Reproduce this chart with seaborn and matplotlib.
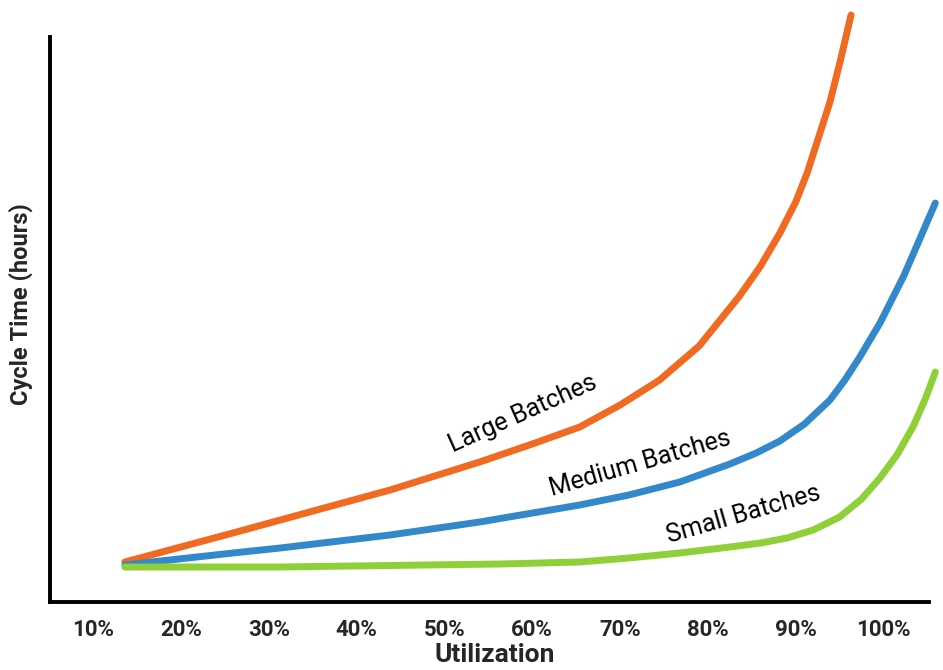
"""Cycle time vs utilization for three batch sizes."""

import matplotlib

matplotlib.use("Agg")

import matplotlib.pyplot as plt
import pandas as pd
import seaborn as sns


# values (utilization in %, cycle time in arbitrary hours)
LARGE_X = [13.6, 25.9, 31.3, 43.8, 54.0, 60.0, 65.4, 70.0, 74.5, 79.0, 83.6, 86.0,
           88.2, 90.0, 91.3, 93.9, 95.1, 96.3]
LARGE_Y = [4.0, 6.9, 8.2, 11.2, 14.0, 15.8, 17.5, 19.7, 22.2, 25.6, 30.6, 33.6,
           36.9, 40.0, 42.9, 50.0, 54.2, 58.7]

MEDIUM_X = [13.6, 25.9, 31.3, 43.8, 54.0, 65.4, 71.0, 76.8, 82.5, 85.5, 88.2, 91.0,
            93.9, 95.6, 97.3, 99.6, 102.3, 105.9]
MEDIUM_Y = [3.7, 4.9, 5.4, 6.7, 8.0, 9.7, 10.7, 12.0, 13.8, 14.9, 16.1, 17.8,
            20.2, 22.2, 24.5, 27.9, 32.6, 39.9]

SMALL_X = [13.6, 31.3, 56.3, 65.4, 71.0, 76.8, 82.5, 86.0, 89.0, 92.0, 95.0, 97.5,
           99.6, 101.6, 103.4, 104.8, 105.9]
SMALL_Y = [3.5, 3.5, 3.8, 4.0, 4.4, 4.9, 5.5, 5.9, 6.4, 7.2, 8.5, 10.3,
           12.4, 14.8, 17.6, 20.4, 23.0]

SERIES = ["Large Batches", "Medium Batches", "Small Batches"]
COLORS = ["#F06A22", "#3388CC", "#8FCF38"]

TICKS = [10, 20, 30, 40, 50, 60, 70, 80, 90, 100]
TICK_LABELS = ["10%", "20%", "30%", "40%", "50%", "60%", "70%", "80%", "90%", "100%"]

FONT = ["Roboto", "DejaVu Sans"]


def build_frame() -> pd.DataFrame:
    parts = []
    for name, xs, ys in zip(SERIES, [LARGE_X, MEDIUM_X, SMALL_X], [LARGE_Y, MEDIUM_Y, SMALL_Y]):
        parts.append(pd.DataFrame({"utilization": xs, "cycle_time": ys, "batch": name}))
    return pd.concat(parts, ignore_index=True)


def main() -> None:
    sns.set_theme(style="white")
    plt.rcParams["font.family"] = FONT

    df = build_frame()

    fig = plt.figure(figsize=(9.43, 6.70), dpi=100)
    ax = fig.add_axes([0.053, 0.1015, 0.9438, 0.888])

    sns.lineplot(
        data=df,
        x="utilization",
        y="cycle_time",
        hue="batch",
        hue_order=SERIES,
        palette=COLORS,
        sort=False,
        linewidth=5,
        legend=False,
        ax=ax,
    )
    for line in ax.lines:
        line.set_solid_capstyle("round")
        line.set_solid_joinstyle("round")

    ax.set_xlim(5.07, 106.43)
    ax.set_ylim(0, 59.5)

    sns.despine(ax=ax, top=True, right=True)
    ax.spines["left"].set_bounds(0, 56.5)
    ax.spines["bottom"].set_bounds(5.07, 105.2)
    for side in ["left", "bottom"]:
        ax.spines[side].set_color("black")
        ax.spines[side].set_linewidth(2.8)

    ax.set_xticks(TICKS)
    ax.set_xticklabels(TICK_LABELS, fontsize=16, fontweight="bold")
    ax.tick_params(axis="x", direction="in", length=3, width=1.5, color="black", pad=12)
    ax.set_yticks([])

    ax.set_xlabel("Utilization", fontsize=19, fontweight="bold", labelpad=2)
    ax.set_ylabel("Cycle Time (hours)", fontsize=17, fontweight="bold", labelpad=12)

    label_specs = [
        ("Large Batches", 58.9, 18.8, 24),
        ("Medium Batches", 72.3, 13.9, 16),
        ("Small Batches", 84.0, 8.8, 16),
    ]
    for text, x, y, angle in label_specs:
        ax.text(
            x, y, text,
            rotation=angle, rotation_mode="anchor",
            ha="center", va="center",
            fontsize=18, color="black",
        )

    fig.savefig("out.png", dpi=100, facecolor="white")
    plt.close(fig)


if __name__ == "__main__":
    main()
